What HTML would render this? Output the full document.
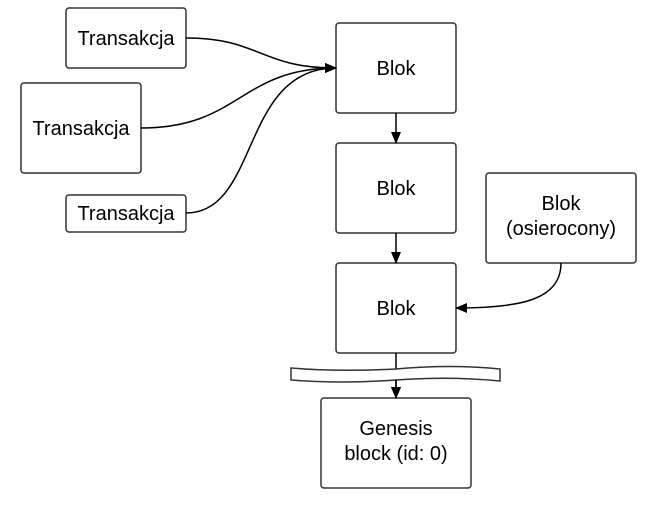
<!DOCTYPE html>
<html><head><meta charset="utf-8"><style>
html,body{margin:0;padding:0;background:#fff;}
svg{display:block;}
text{font-family:"Liberation Sans",sans-serif;font-size:20px;fill:#000;}
</style></head><body>
<svg width="666" height="508" viewBox="0 0 666 508" xmlns="http://www.w3.org/2000/svg">
<defs><marker id="a" markerWidth="12" markerHeight="12" refX="11" refY="6" orient="auto" markerUnits="userSpaceOnUse"><path d="M0,1 L12,6 L0,11 Z" fill="#000"/></marker></defs>
<g fill="#fff" stroke="#333" stroke-width="1.5">
<rect x="66" y="8" width="120" height="60" rx="3"/>
<rect x="21" y="83" width="120" height="90" rx="3"/>
<rect x="66" y="195" width="120" height="37" rx="3"/>
<rect x="336" y="23" width="120" height="90" rx="3"/>
<rect x="336" y="143" width="120" height="90" rx="3"/>
<rect x="336" y="263" width="120" height="90" rx="3"/>
<rect x="486" y="173" width="150" height="90" rx="3"/>
<rect x="321" y="398" width="150" height="90" rx="3"/>
</g>
<g fill="none" stroke="#000" stroke-width="1.5">
<path d="M186,38 C260,38 260,68 336,68" marker-end="url(#a)"/>
<path d="M141,128 C240,128 240,68 336,68" marker-end="url(#a)"/>
<path d="M186,213 C260,213 240,68 336,68" marker-end="url(#a)"/>
<path d="M396,113 L396,143" marker-end="url(#a)"/>
<path d="M396,233 L396,263" marker-end="url(#a)"/>
<path d="M561,263 C561,300 520,308 456,308" marker-end="url(#a)"/>
<path d="M396,353 L396,398" marker-end="url(#a)"/>
</g>
<path d="M291,368 Q340,372 396,369 Q450,364 500,369 L500,381 Q450,376 396,380 Q340,384 291,380 Z" fill="#fff" stroke="#333" stroke-width="1.5"/>
<path d="M396,380 L396,398" stroke="#000" stroke-width="1.5" marker-end="url(#a)"/>
<g text-anchor="middle">
<text x="126" y="45">Transakcja</text>
<text x="81" y="135">Transakcja</text>
<text x="126" y="220">Transakcja</text>
<text x="396" y="75">Blok</text>
<text x="396" y="195">Blok</text>
<text x="396" y="315">Blok</text>
<text x="561" y="210">Blok</text>
<text x="561" y="235">(osierocony)</text>
<text x="396" y="435">Genesis</text>
<text x="396" y="460">block (id: 0)</text>
</g>
</svg>
</body></html>
